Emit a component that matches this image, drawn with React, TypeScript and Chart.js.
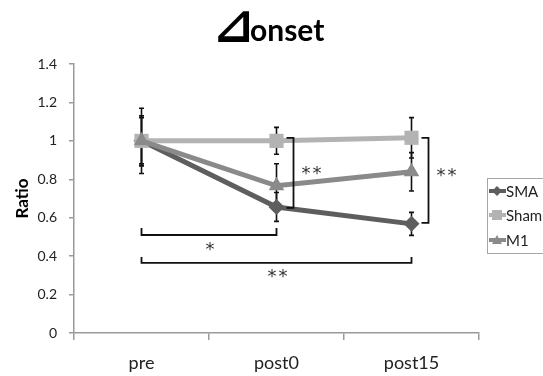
import React, { useEffect, useRef } from 'react';
import { Chart, registerables } from 'chart.js';

Chart.register(...registerables);

const categories = ['pre', 'post0', 'post15'];
const seriesNames = ['SMA', 'Sham', 'M1'];
const smaValues = [1.0, 0.656, 0.568];
const shamValues = [1.0, 1.0, 1.016];
const m1Values = [1.0, 0.766, 0.839];
const smaErrors = [0.17, 0.075, 0.06];
const shamErrors = [0.12, 0.07, 0.105];
const m1Errors = [0.13, 0.115, 0.1];
const yTicks = [0, 0.2, 0.4, 0.6, 0.8, 1, 1.2, 1.4];
const yTickLabels = ['0', '0.2', '0.4', '0.6', '0.8', '1', '1.2', '1.4'];
const titleSymbol = '⊿';
const titleWord = 'onset';
const yAxisTitle = 'Ratio';

// significance brackets (values in data units, cat = category index)
const vBrackets = [
  { cat: 1, from: 1.016, to: 0.651, label: '**', labelY: 0.84 },
  { cat: 2, from: 1.016, to: 0.573, label: '**', labelY: 0.83 },
];
const hBrackets = [
  { from: 0, to: 1, y: 0.51, tip: 0.547, label: '*', labelY: 0.448 },
  { from: 0, to: 2, y: 0.365, tip: 0.396, label: '**', labelY: 0.307 },
];

const FONT = 'Lato, "Open Sans", "Noto Sans", sans-serif';
const colors = ['#5e5e5e', '#b3b3b3', '#8a8a8a'];
const pointStyles = ['rectRot', 'rect', 'triangle'];
const pointRadii = [8, 10, 9];

const seriesValues = [smaValues, shamValues, m1Values];
const seriesErrors = [smaErrors, shamErrors, m1Errors];

function drawMarker(ctx: CanvasRenderingContext2D, style: string, x: number, y: number, r: number) {
  ctx.beginPath();
  if (style === 'rectRot') {
    ctx.moveTo(x, y - r);
    ctx.lineTo(x + r, y);
    ctx.lineTo(x, y + r);
    ctx.lineTo(x - r, y);
  } else if (style === 'rect') {
    ctx.rect(x - r, y - r, 2 * r, 2 * r);
  } else {
    ctx.moveTo(x, y - r);
    ctx.lineTo(x + r, y + r * 0.8);
    ctx.lineTo(x - r, y + r * 0.8);
  }
  ctx.closePath();
  ctx.fill();
}

const extrasPlugin = {
  id: 'extras',
  beforeDatasetsDraw(chart: any) {
    const { ctx, scales } = chart;
    const xs = scales.x;
    const ys = scales.y;
    ctx.save();
    ctx.strokeStyle = '#111';
    ctx.lineWidth = 1.6;
    seriesValues.forEach((vals, si) => {
      vals.forEach((v, i) => {
        const e = seriesErrors[si][i];
        const x = xs.getPixelForValue(i);
        const yt = ys.getPixelForValue(v + e);
        const yb = ys.getPixelForValue(v - e);
        ctx.beginPath();
        ctx.moveTo(x, yt);
        ctx.lineTo(x, yb);
        ctx.moveTo(x - 2.5, yt);
        ctx.lineTo(x + 2.5, yt);
        ctx.moveTo(x - 2.5, yb);
        ctx.lineTo(x + 2.5, yb);
        ctx.stroke();
      });
    });
    ctx.restore();
  },
  afterDatasetsDraw(chart: any) {
    const { ctx, scales } = chart;
    const xs = scales.x;
    const ys = scales.y;
    ctx.save();
    ctx.strokeStyle = '#111';
    ctx.lineWidth = 1.8;
    ctx.fillStyle = '#333';
    ctx.font = `18px "DejaVu Sans", sans-serif`;
    ctx.textAlign = 'center';
    ctx.textBaseline = 'middle';
    (ctx as any).letterSpacing = '2px';
    vBrackets.forEach((b) => {
      const x = xs.getPixelForValue(b.cat) + 17;
      const y1 = ys.getPixelForValue(b.from);
      const y2 = ys.getPixelForValue(b.to);
      ctx.beginPath();
      ctx.moveTo(x - 7, y1);
      ctx.lineTo(x, y1);
      ctx.lineTo(x, y2);
      ctx.lineTo(x - 7, y2);
      ctx.stroke();
      ctx.fillText(b.label, x + 19, ys.getPixelForValue(b.labelY) + 3);
    });
    hBrackets.forEach((b) => {
      const x1 = xs.getPixelForValue(b.from);
      const x2 = xs.getPixelForValue(b.to);
      const y = ys.getPixelForValue(b.y);
      const yt = ys.getPixelForValue(b.tip);
      ctx.beginPath();
      ctx.moveTo(x1, yt);
      ctx.lineTo(x1, y);
      ctx.lineTo(x2, y);
      ctx.lineTo(x2, yt);
      ctx.stroke();
      ctx.fillText(b.label, (x1 + x2) / 2 + 2, ys.getPixelForValue(b.labelY) + 3);
    });
    ctx.restore();
  },
  afterDraw(chart: any) {
    const { ctx } = chart;
    ctx.save();
    // title: symbol scaled so its glyph is ~30px tall, then the word
    ctx.fillStyle = '#000';
    ctx.textAlign = 'left';
    ctx.textBaseline = 'alphabetic';
    const symFamily = `"DejaVu Sans", "Noto Sans CJK JP", sans-serif`;
    ctx.font = `bold 100px ${symFamily}`;
    const m = ctx.measureText(titleSymbol);
    const h100 = (m.actualBoundingBoxAscent + m.actualBoundingBoxDescent) || 70;
    const symSize = (31 / h100) * 100;
    ctx.font = `bold ${symSize}px ${symFamily}`;
    const ms = ctx.measureText(titleSymbol);
    const baseline = 42;
    const symLeft = 218;
    ctx.fillText(titleSymbol, symLeft + ms.actualBoundingBoxLeft, baseline - ms.actualBoundingBoxDescent);
    const symRight = symLeft + ms.actualBoundingBoxLeft + ms.actualBoundingBoxRight;
    ctx.font = `bold 30px ${FONT}`;
    ctx.fillText(titleWord, symRight + 1, 41);
    // legend
    ctx.strokeStyle = '#a6a6a6';
    ctx.lineWidth = 1;
    ctx.strokeRect(487.5, 178.5, 80, 75);
    const rows = [191, 215, 240];
    ctx.font = `15px ${FONT}`;
    ctx.textAlign = 'left';
    ctx.textBaseline = 'middle';
    seriesNames.forEach((name, i) => {
      const y = rows[i];
      ctx.strokeStyle = colors[i];
      ctx.fillStyle = colors[i];
      ctx.lineWidth = 4;
      ctx.beginPath();
      ctx.moveTo(489, y);
      ctx.lineTo(506, y);
      ctx.stroke();
      drawMarker(ctx, pointStyles[i], 497, y, 5);
      ctx.fillStyle = '#222';
      ctx.fillText(name, 506, y + 1);
    });
    ctx.restore();
  },
};

export default function App() {
  const canvasRef = useRef<HTMLCanvasElement>(null);
  useEffect(() => {
    if (!canvasRef.current) return;
    const chart = new Chart(canvasRef.current, {
      type: 'line',
      data: {
        labels: categories,
        datasets: seriesNames.map((name, i) => ({
          label: name,
          data: seriesValues[i],
          borderColor: colors[i],
          backgroundColor: colors[i],
          borderWidth: 5,
          pointStyle: pointStyles[i] as any,
          pointRadius: pointRadii[i],
          pointBorderWidth: 0,
          pointBackgroundColor: colors[i],
          order: 3 - i,
        })),
      },
      options: {
        responsive: true,
        maintainAspectRatio: false,
        animation: false,
        layout: { padding: { top: 64, right: 64, left: 0, bottom: 0 } },
        plugins: {
          legend: { display: false },
          title: { display: false },
          tooltip: { enabled: false },
        },
        scales: {
          x: {
            type: 'category',
            offset: true,
            grid: {
              offset: true,
              drawOnChartArea: false,
              drawTicks: true,
              tickLength: 7,
              color: '#9a9a9a',
              lineWidth: 1.5,
            },
            border: { display: true, color: '#9a9a9a', width: 1.5 },
            ticks: {
              color: '#222',
              font: { family: FONT, size: 18 },
              padding: 12,
              maxRotation: 0,
            },
            afterFit(scale: any) {
              scale.height = 43;
            },
          },
          y: {
            min: 0,
            max: 1.4,
            afterBuildTicks(scale: any) {
              scale.ticks = yTicks.map((v) => ({ value: v }));
            },
            grid: {
              drawOnChartArea: false,
              drawTicks: true,
              tickLength: 5,
              color: '#9a9a9a',
              lineWidth: 1.5,
            },
            border: { display: true, color: '#9a9a9a', width: 1.5 },
            ticks: {
              color: '#222',
              font: { family: FONT, size: 14 },
              padding: 12,
              callback: (_v: any, i: number) => yTickLabels[i],
            },
            title: {
              display: true,
              text: yAxisTitle,
              color: '#000',
              font: { family: FONT, size: 17, weight: 'bold' },
              padding: { top: 12, bottom: 0 },
            },
            afterFit(scale: any) {
              scale.width = 74;
            },
          },
        },
      },
      plugins: [extrasPlugin],
    });
    return () => chart.destroy();
  }, []);
  return (
    <div style={{ position: 'fixed', left: 0, top: 0, width: 543, height: 376, background: '#fff' }}>
      <canvas ref={canvasRef} />
    </div>
  );
}
